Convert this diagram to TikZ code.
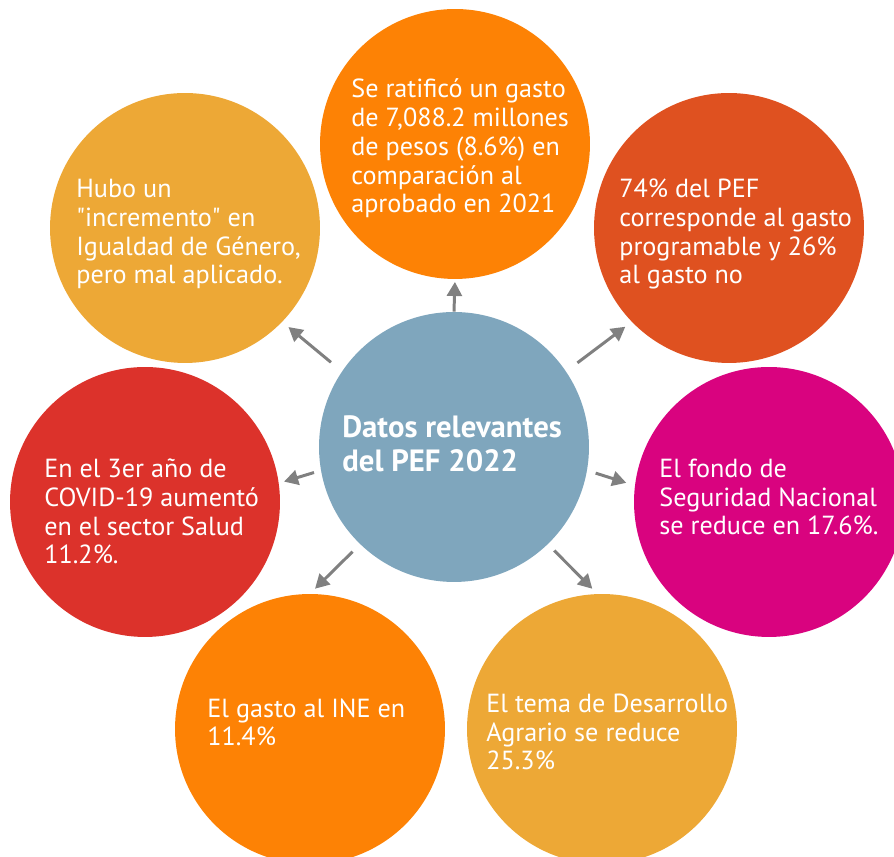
\documentclass[tikz,border=0pt]{standalone}
\usepackage{fontspec}
\setmainfont{PT Sans}
\usepackage{xcolor}
\usetikzlibrary{arrows.meta, positioning}
\definecolor{pefblue}{HTML}{7FA6BD}
\definecolor{pefnaranja}{HTML}{FD8205}
\definecolor{pefambar}{HTML}{EDA836}
\definecolor{pefladrillo}{HTML}{DF5120}
\definecolor{pefrojo}{HTML}{DC322B}
\definecolor{pefmagenta}{HTML}{D9037F}
\definecolor{pefgris}{HTML}{808080}

\begin{document}
\begin{tikzpicture}[x=0.02cm, y=0.02cm,
  bubble/.style={circle, minimum size=5.4cm, inner sep=0pt},
  txt/.style={anchor=base west, align=left, inner sep=0pt, text=white,
    font=\fontsize{14.9}{16.4}\selectfont},
  arr/.style={-{Triangle[length=8pt, width=8.5pt]}, draw=pefgris, line width=1.7pt}]
\clip (0,0) rectangle (894,857);
\useasboundingbox (0,0) rectangle (894,857);

\node[bubble, fill=pefblue] (centro) at (454,410) {};
\node[bubble, fill=pefnaranja] (gasto) at (455,713) {};
\node[bubble, fill=pefambar] (genero) at (185,629) {};
\node[bubble, fill=pefladrillo] (pef) at (729,629) {};
\node[bubble, fill=pefrojo] (salud) at (145,355) {};
\node[bubble, fill=pefmagenta] (seguridad) at (769,355) {};
\node[bubble, fill=pefnaranja] (ine) at (310,128) {};
\node[bubble, fill=pefambar] (agrario) at (602,128) {};

% texto anclado en la linea base de la ultima linea
\node[txt, font=\fontsize{17.5}{19.8}\selectfont\bfseries] (tcentro) at (342,385)
  {Datos relevantes\\del PEF 2022};
\node[txt] (tgasto) at (351,644)
  {Se ratificó un gasto\\de 7,088.2 millones\\de pesos (8.6\%) en\\comparación al\\aprobado en 2021};
\node[txt] (tgenero) at (76,573)
  {Hubo un\\\textquotedbl incremento\textquotedbl{} en\\Igualdad de Género,\\pero mal aplicado.};
\node[txt] (tpef) at (619,573)
  {74\% del PEF\\corresponde al gasto\\programable y 26\%\\al gasto no};
\node[txt] (tsalud) at (44,293)
  {En el 3er año de\\COVID-19 aumentó\\en el sector Salud\\11.2\%.};
\node[txt] (tseguridad) at (659,322)
  {El fondo de\\Seguridad Nacional\\se reduce en 17.6\%.};
\node[txt] (tine) at (207,111)
  {El gasto al INE en\\11.4\%};
\node[txt] (tagrario) at (486,87)
  {El tema de Desarrollo\\Agrario se reduce\\25.3\%};

\draw[arr, shorten >=1.5pt] (centro.90) -- (gasto.270);
\draw[arr, shorten <=8pt, shorten >=4.5pt] (centro.146) -- (genero.316);
\draw[arr, shorten <=8pt, shorten >=4.5pt] (centro.34) -- (pef.224);
\draw[arr, shorten <=4pt, shorten >=3pt] (centro.190) -- (salud.8);
\draw[arr, shorten <=5pt, shorten >=5pt] (centro.350) -- (seguridad.173);
\draw[arr, shorten <=6pt, shorten >=4pt] (centro.226) -- (ine.90);
\draw[arr, shorten <=5pt, shorten >=4pt] (centro.314) -- (agrario.92);
\end{tikzpicture}
\end{document}
